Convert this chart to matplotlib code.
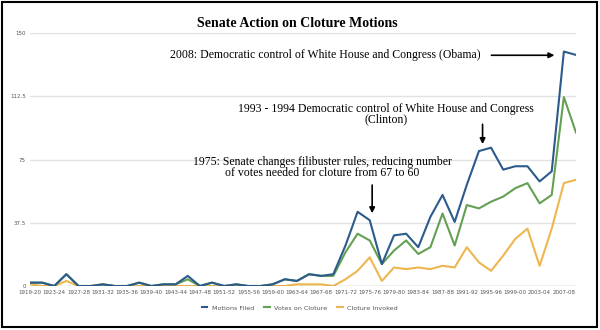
#Senate cloture activity by Congress, 1919-2010
import matplotlib.pyplot as plt
from matplotlib.patches import Rectangle

congresses = ['1919-20', '1921-22', '1923-24', '1925-26', '1927-28', '1929-30',
              '1931-32', '1933-34', '1935-36', '1937-38', '1939-40', '1941-42',
              '1943-44', '1945-46', '1947-48', '1949-50', '1951-52', '1953-54',
              '1955-56', '1957-58', '1959-60', '1961-62', '1963-64', '1965-66',
              '1967-68', '1969-70', '1971-72', '1973-74', '1975-76', '1977-78',
              '1979-80', '1981-82', '1983-84', '1985-86', '1987-88', '1989-90',
              '1991-92', '1993-94', '1995-96', '1997-98', '1999-00', '2001-02',
              '2003-04', '2005-06', '2007-08', '2009-10']
motions_filed = [2, 2, 0, 7, 0, 0, 1, 0, 0, 2, 0, 1, 1, 6, 0, 2, 0, 1, 0, 0, 1, 4, 3,
                 7, 6, 7, 24, 44, 39, 13, 30, 31, 23, 41, 54, 38, 60, 80, 82, 69, 71,
                 71, 62, 68, 139, 137]
votes_on_cloture = [2, 2, 0, 7, 0, 0, 1, 0, 0, 2, 0, 1, 1, 4, 0, 2, 0, 1, 0, 0, 1, 4,
                    3, 7, 6, 6, 20, 31, 27, 13, 21, 27, 19, 23, 43, 24, 48, 46, 50, 53,
                    58, 61, 49, 54, 112, 91]
cloture_invoked = [1, 0, 0, 3, 0, 0, 0, 0, 0, 0, 0, 0, 0, 0, 0, 0, 0, 0, 0, 0, 0, 0,
                   1, 1, 1, 0, 4, 9, 17, 3, 11, 10, 11, 10, 12, 11, 23, 14, 9, 18, 28,
                   34, 12, 34, 61, 63]
y_ticks = [0, 37.5, 75, 112.5, 150]
y_labels = ['0', '37.5', '75', '112.5', '150']

x = list(range(len(congresses)))

fig = plt.figure(figsize=(6, 3.3), dpi=100)
ax = fig.add_axes([0.05, 0.1333, 0.91, 0.7667])

ax.plot(x, motions_filed, color='#2b5a8c', lw=1.5, label='Motions Filed', zorder=3)
ax.plot(x, votes_on_cloture, color='#63a052', lw=1.5, label='Votes on Cloture', zorder=2)
ax.plot(x, cloture_invoked, color='#eeb64f', lw=1.5, label='Cloture Invoked', zorder=1)

ax.set_xlim(0, len(x) - 1)
ax.set_ylim(0, 150)
ax.set_yticks(y_ticks)
ax.set_yticklabels(y_labels)
ax.set_xticks(x[::2])
ax.set_xticklabels(congresses[::2])
ax.tick_params(length=0, labelsize=4, labelcolor='#555555', pad=3)
ax.grid(axis='y', color='#e2e2e2', lw=1)
ax.axhline(0, color='#444444', lw=0.8, zorder=4)
for s in ax.spines.values():
    s.set_visible(False)
ax.set_axisbelow(True)

fig.text(0.495, 0.93, 'Senate Action on Cloture Motions', ha='center', va='center',
         family='Liberation Serif', fontweight='bold', fontsize=10)

leg = ax.legend(loc='center', bbox_to_anchor=(0.5, 0.067), bbox_transform=fig.transFigure,
                ncol=3, frameon=False, fontsize=4.6, handlelength=0.8, handletextpad=0.7,
                columnspacing=1.6)
for t in leg.get_texts():
    t.set_color('#555555')

# annotations
serif = dict(family='Liberation Serif', fontsize=8.5, color='black')
arrow = dict(arrowstyle='-|>', color='black', lw=1.2, mutation_scale=8)

i08 = congresses.index('2007-08')
ax.text(37.1, 136.8, '2008: Democratic control of White House and Congress (Obama)',
        ha='right', va='center', **serif)
ax.annotate('', xy=(i08 - 0.55, motions_filed[i08] - 2.2), xytext=(37.8, 136.8),
            arrowprops=arrow)

i93 = congresses.index('1993-94')
ax.text(29.35, 105.2, '1993 - 1994 Democratic control of White House and Congress',
        ha='center', va='center', **serif)
ax.text(29.35, 98.6, '(Clinton)', ha='center', va='center', **serif)
ax.annotate('', xy=(i93 + 0.3, motions_filed[i93] + 2.5), xytext=(i93 + 0.3, 97.5),
            arrowprops=arrow)

i75 = congresses.index('1975-76')
ax.text(24.1, 73.5, '1975: Senate changes filibuster rules, reducing number',
        ha='center', va='center', **serif)
ax.text(24.1, 66.9, 'of votes needed for cloture from 67 to 60',
        ha='center', va='center', **serif)
ax.annotate('', xy=(i75 + 0.2, motions_filed[i75] + 2.5), xytext=(i75 + 0.2, 61.5),
            arrowprops=arrow)

fig.patches.append(Rectangle((0.004, 0.008), 0.991, 0.985, transform=fig.transFigure,
                             fill=False, edgecolor='black', lw=1.5))

fig.savefig('out.png', dpi=100)
